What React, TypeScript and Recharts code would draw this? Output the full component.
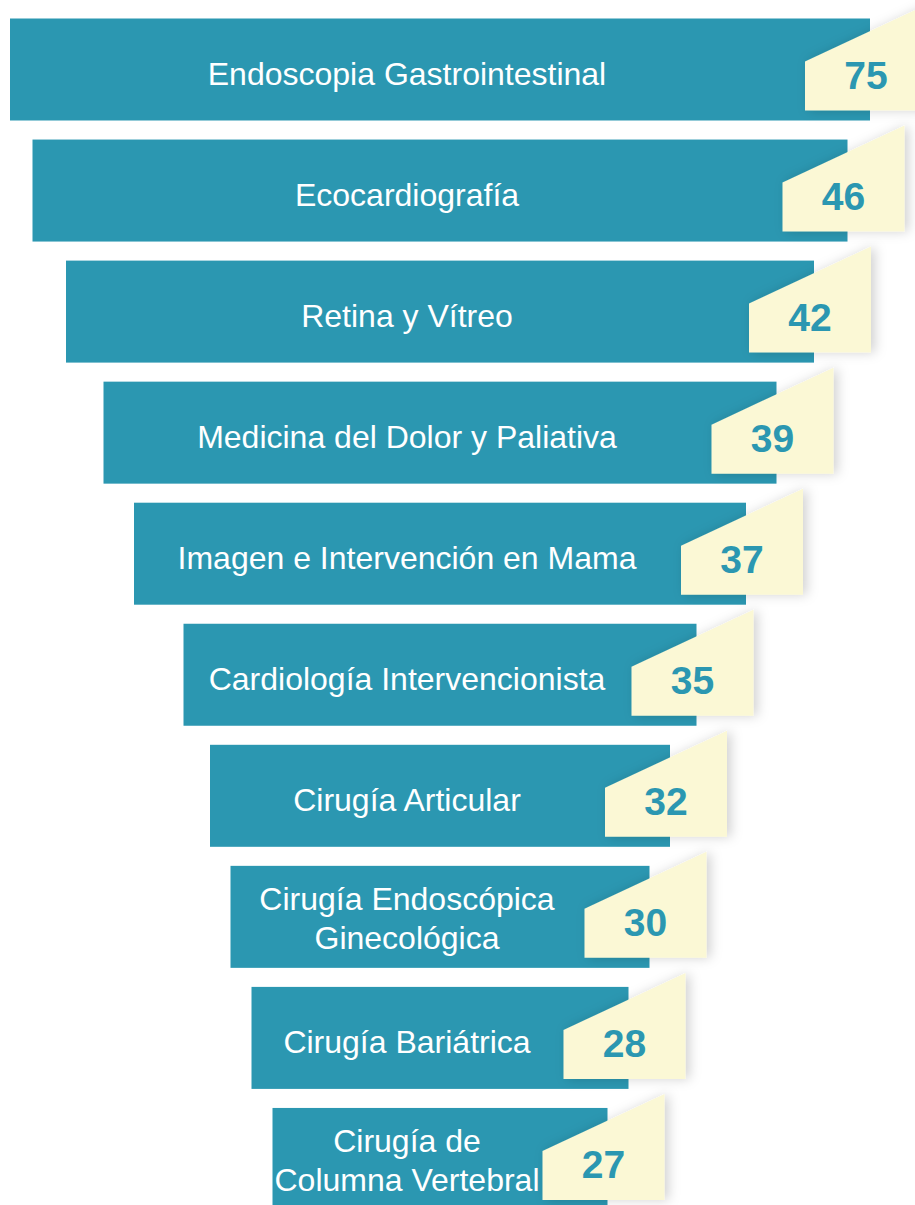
import { BarChart, Bar, XAxis, YAxis } from 'recharts'

// categories, top to bottom ("\n" = line break inside the bar)
const categories = [
  'Endoscopia Gastrointestinal',
  'Ecocardiografía',
  'Retina y Vítreo',
  'Medicina del Dolor y Paliativa',
  'Imagen e Intervención en Mama',
  'Cardiología Intervencionista',
  'Cirugía Articular',
  'Cirugía Endoscópica\nGinecológica',
  'Cirugía Bariátrica',
  'Cirugía de\nColumna Vertebral',
]

// numbers shown in the yellow tabs
const values = [75, 46, 42, 39, 37, 35, 32, 30, 28, 27]

// funnel bar lengths (decorative, not proportional to values)
const barLengths = [860, 815, 748, 673, 612, 513, 460, 419, 377, 335]

const MAX_LEN = 860
const TEAL = '#2b97b1'
const CREAM = '#fbf8d5'
const FONT = '"Liberation Sans", Arial, Helvetica, sans-serif'

const data = categories.map((name, i) => ({
  name,
  value: values[i],
  pad: (MAX_LEN - barLengths[i]) / 2,
  len: barLengths[i],
}))

function FunnelBar(props: any) {
  const { x, y, width, height, payload } = props
  const end = x + width
  const bottom = y + height
  const cy = y + height / 2
  const left = end - 65
  const right = end + 57
  const lines: string[] = String(payload.name).split('\n')
  const labelX = x + width / 2 - 33

  return (
    <g>
      <rect x={x} y={y} width={width} height={height} fill={TEAL} />
      {lines.length === 1 ? (
        <text x={labelX} y={cy + 15} textAnchor="middle" fill="#fff" fontSize={32} fontFamily={FONT}>
          {lines[0]}
        </text>
      ) : (
        <text textAnchor="middle" fill="#fff" fontSize={32} fontFamily={FONT}>
          <tspan x={labelX} y={cy - 7}>{lines[0]}</tspan>
          <tspan x={labelX} y={cy + 32}>{lines[1]}</tspan>
        </text>
      )}
      <polygon
        points={`${left},${y + 43} ${right},${y - 14} ${right},${bottom - 10} ${left},${bottom - 10}`}
        fill={CREAM}
        filter="url(#tabShadow)"
      />
      <text
        x={(left + right) / 2}
        y={cy + 19}
        textAnchor="middle"
        fill={TEAL}
        fontSize={39}
        fontWeight="bold"
        fontFamily={FONT}
      >
        {payload.value}
      </text>
    </g>
  )
}

export default function App() {
  return (
    <div style={{ position: 'absolute', top: 0, left: 0, width: 915, height: 1205, overflow: 'hidden', background: '#fff' }}>
      <BarChart
        width={915}
        height={1219}
        data={data}
        layout="vertical"
        margin={{ top: 8.5, right: 45, bottom: 0, left: 10 }}
        barSize={102}
      >
        <defs>
          <filter id="tabShadow" x="-30%" y="-30%" width="160%" height="160%">
            <feDropShadow dx={4} dy={0} stdDeviation={6} floodColor="#000" floodOpacity={0.18} />
          </filter>
        </defs>
        <XAxis type="number" domain={[0, MAX_LEN]} hide />
        <YAxis type="category" dataKey="name" hide />
        <Bar dataKey="pad" stackId="a" fill="transparent" isAnimationActive={false} />
        <Bar dataKey="len" stackId="a" shape={FunnelBar} isAnimationActive={false} />
      </BarChart>
    </div>
  )
}
